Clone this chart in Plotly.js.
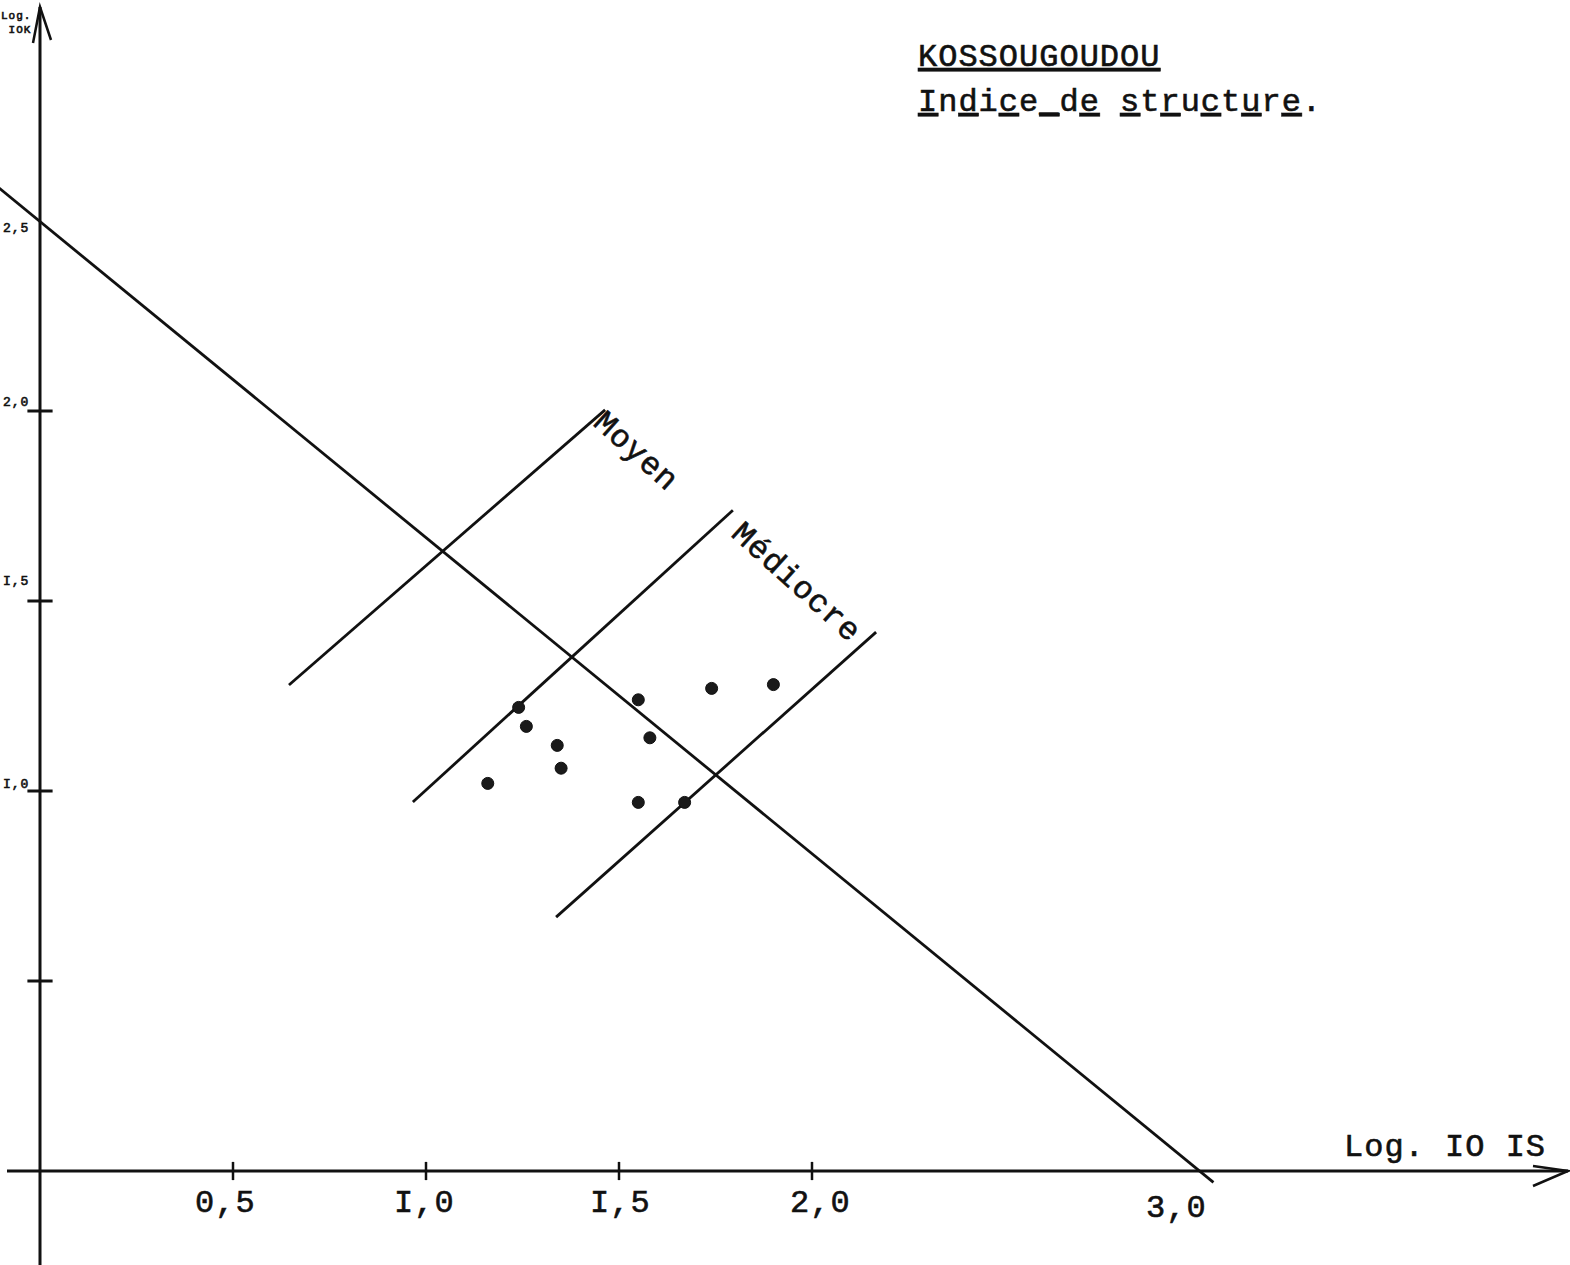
<!DOCTYPE html>
<html>
<head>
<meta charset="utf-8">
<script src="https://cdn.plot.ly/plotly-3.0.1.min.js"></script>
<style>
  html, body { margin: 0; padding: 0; background: #ffffff; }
  #chart { width: 1570px; height: 1265px; }
  .annotation-text { letter-spacing: 1px; stroke: #111111; stroke-width: 0.6px; }
</style>
</head>
<body>
<div id="chart"></div>
<script>
// ---- Data ----
// Sample points (x = Log. 10 Is, y = Log. 10 K)
const pointsX = [1.24, 1.26, 1.34, 1.35, 1.16, 1.55, 1.58, 1.74, 1.90, 1.55, 1.67];
const pointsY = [1.22, 1.17, 1.12, 1.06, 1.02, 1.24, 1.14, 1.27, 1.28, 0.97, 0.97];

// Main diagonal (from the left edge down to 3,0 on the x axis)
const mainLineX = [-0.11, 3.04];
const mainLineY = [2.59, -0.03];
// Class boundary lines
const moyenLineX = [0.645, 1.464];
const moyenLineY = [1.279, 2.003];
const mediocreLineX = [0.966, 1.795];
const mediocreLineY = [0.971, 1.739];
const lowerLineX = [1.337, 2.166];
const lowerLineY = [0.668, 1.418];

// Axes ticks and labels
const xTickVals = [0.5, 1.0, 1.5, 2.0];
const xLabelVals = [0.5, 1.0, 1.5, 2.0, 3.0];
const xLabelText = ['0,5', 'I,0', 'I,5', '2,0', '3,0'];
const yTickVals = [0.5, 1.0, 1.5, 2.0];
const yLabelVals = [1.0, 1.5, 2.0, 2.5];
const yLabelText = ['I,0', 'I,5', '2,0', '2,5'];

// Texts
const titleText = 'KOSSOUGOUDOU';
const subtitleText = 'Indice_de structure.';
const xAxisTitle = 'Log. IO IS';
const yAxisTitle = 'Log.<br>IOK';
const zoneNames = ['Moyen', 'Médiocre'];

// ---- Scales (plot area fills the page) ----
const W = 1570, H = 1265;
const X0PX = 40, XPX = 386;      // pixel of x=0, pixels per unit
const Y0PX = 1171, YPX = 380;    // pixel of y=0, pixels per unit
const xRange = [-X0PX / XPX, (W - X0PX) / XPX];
const yRange = [(Y0PX - H) / YPX, Y0PX / YPX];
const dx = p => p / XPX;  // pixel offset -> data offset
const dy = p => p / YPX;

const FONT = '"Liberation Mono", "Courier New", "DejaVu Sans Mono", monospace';
const INK = '#111111';

// alternate typewriter underline under every other character
function altUnderline(s) {
  let out = '';
  for (let i = 0; i < s.length; i++) {
    const c = s[i];
    out += (i % 2 === 0 && c !== ' ') ? '<u>' + c + '</u>' : c;
  }
  return out;
}

const yTop = yRange[1] - dy(7);
const xRight = xRange[1] - dx(2);

const traces = [
  // y axis
  { x: [0, 0], y: [yRange[0], yTop], mode: 'lines', line: { color: INK, width: 3 }, hoverinfo: 'skip' },
  // x axis
  { x: [xRange[0] + dx(7), xRight], y: [0, 0], mode: 'lines', line: { color: INK, width: 3 }, hoverinfo: 'skip' },
  // tick marks
  { x: yTickVals.map(() => 0), y: yTickVals, mode: 'markers',
    marker: { symbol: 'line-ew', size: 18, line: { color: INK, width: 3 } }, hoverinfo: 'skip' },
  { x: xTickVals, y: xTickVals.map(() => 0), mode: 'markers',
    marker: { symbol: 'line-ns', size: 13, line: { color: INK, width: 2.5 } }, hoverinfo: 'skip' },
  // lines
  { x: mainLineX, y: mainLineY, mode: 'lines', line: { color: INK, width: 2.8 } },
  { x: moyenLineX, y: moyenLineY, mode: 'lines', line: { color: INK, width: 2.8 } },
  { x: mediocreLineX, y: mediocreLineY, mode: 'lines', line: { color: INK, width: 2.8 } },
  { x: lowerLineX, y: lowerLineY, mode: 'lines', line: { color: INK, width: 2.8 } },
  // points
  { x: pointsX, y: pointsY, mode: 'markers',
    marker: { symbol: 'circle', size: 12, color: '#1a1a1a', line: { color: INK, width: 1 } } }
];

const annotations = [];
const xShift = { '0,5': -8, 'I,0': -2, 'I,5': 1, '2,0': 8, '3,0': -22 };
const xDrop = { '3,0': -37 };
xLabelVals.forEach((v, i) => {
  const t = xLabelText[i];
  annotations.push({ x: v, y: 0, xref: 'x', yref: 'y', text: t, showarrow: false,
    xanchor: 'center', yanchor: 'middle', xshift: xShift[t] || 0, yshift: xDrop[t] || -32,
    font: { family: FONT, size: 32, color: INK } });
});
const yShift = [7, 20, 9, -7];
yLabelVals.forEach((v, i) => {
  annotations.push({ x: 0, y: v, xref: 'x', yref: 'y', text: yLabelText[i], showarrow: false,
    xanchor: 'right', yanchor: 'middle', xshift: -9, yshift: yShift[i],
    font: { family: FONT, size: 13, color: INK } });
});
// axis titles
annotations.push({ x: 1342 / W, y: 1 - 1147 / H, xref: 'paper', yref: 'paper', text: xAxisTitle,
  showarrow: false, xanchor: 'left', yanchor: 'middle', font: { family: FONT, size: 32, color: INK } });
annotations.push({ x: 33 / W, y: 1 - 8 / H, xref: 'paper', yref: 'paper', text: yAxisTitle,
  showarrow: false, xanchor: 'right', yanchor: 'top', align: 'right',
  font: { family: FONT, size: 11, color: INK } });
// title block
annotations.push({ x: 916 / W, y: 1 - 58 / H, xref: 'paper', yref: 'paper', text: '<u>' + titleText + '</u>',
  showarrow: false, xanchor: 'left', yanchor: 'middle', font: { family: FONT, size: 32, color: INK } });
annotations.push({ x: 916 / W, y: 1 - 103 / H, xref: 'paper', yref: 'paper', text: altUnderline(subtitleText),
  showarrow: false, xanchor: 'left', yanchor: 'middle', font: { family: FONT, size: 32, color: INK } });
// zone labels along the boundary lines
annotations.push({ x: 1.544, y: 1.892, xref: 'x', yref: 'y', text: zoneNames[0], showarrow: false,
  textangle: 42, xanchor: 'center', yanchor: 'middle', font: { family: FONT, size: 32, color: INK } });
annotations.push({ x: 1.959, y: 1.547, xref: 'x', yref: 'y', text: zoneNames[1], showarrow: false,
  textangle: 42, xanchor: 'center', yanchor: 'middle', font: { family: FONT, size: 32, color: INK } });

// arrowheads at the axis ends
const shapes = [
  { type: 'path', xref: 'x', yref: 'y',
    path: `M ${-dx(7)} ${yTop - dy(36)} L 0 ${yTop} L ${dx(11)} ${yTop - dy(33)}`,
    line: { color: INK, width: 2.5 } },
  { type: 'path', xref: 'x', yref: 'y',
    path: `M ${xRight - dx(35)} ${dy(5)} L ${xRight} 0 L ${xRight - dx(35)} ${-dy(15)}`,
    line: { color: INK, width: 2.5 } }
];

const layout = {
  width: W, height: H,
  margin: { l: 0, r: 0, t: 0, b: 0, pad: 0 },
  paper_bgcolor: '#ffffff', plot_bgcolor: '#ffffff',
  showlegend: false,
  font: { family: FONT, size: 32, color: INK },
  xaxis: { range: xRange, visible: false, fixedrange: true },
  yaxis: { range: yRange, visible: false, fixedrange: true },
  annotations: annotations,
  shapes: shapes
};

Plotly.newPlot('chart', traces, layout, { displayModeBar: false, staticPlot: true });
</script>
</body>
</html>
